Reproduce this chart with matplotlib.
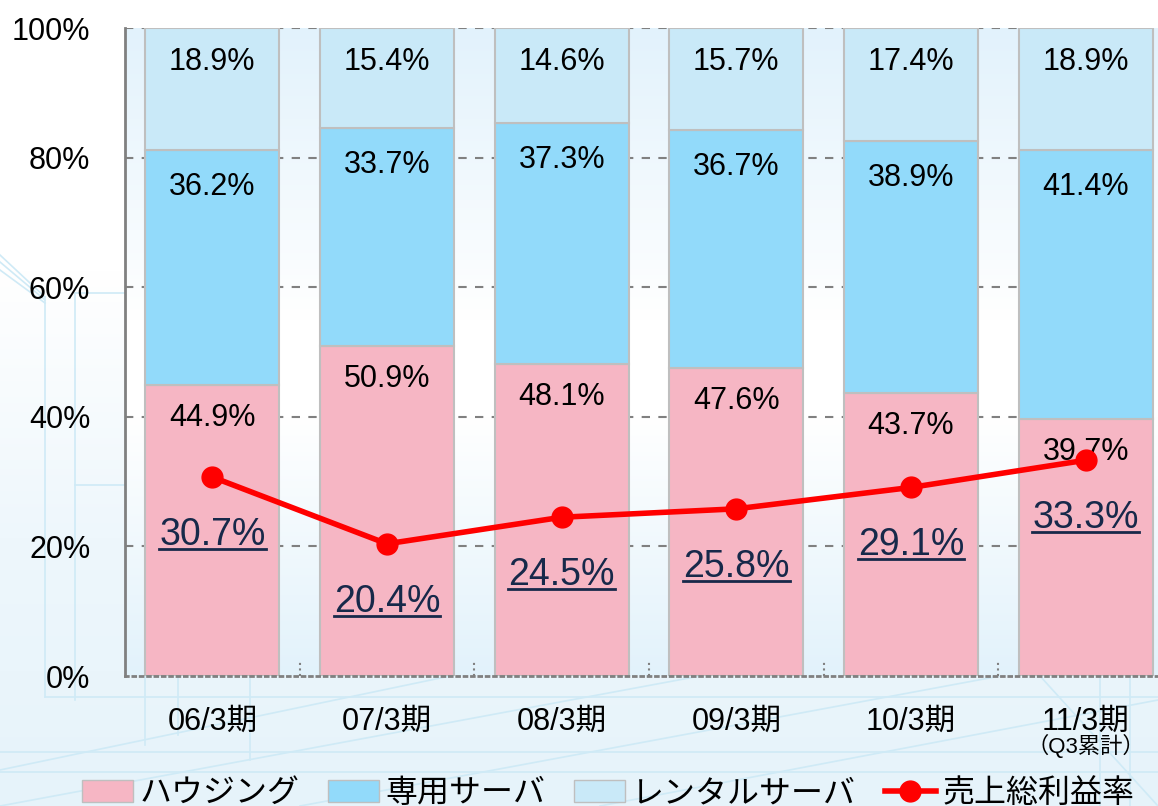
import numpy as np
import matplotlib.pyplot as plt
from matplotlib.colors import LinearSegmentedColormap
from matplotlib.lines import Line2D
from matplotlib.patches import Patch

plt.rcParams['font.family'] = ['Liberation Sans', 'Noto Sans CJK JP', 'DejaVu Sans']

# data (shares in %)
periods = ['06/3期', '07/3期', '08/3期', '09/3期', '10/3期', '11/3期']
housing = [44.9, 50.9, 48.1, 47.6, 43.7, 39.7]
dedicated = [36.2, 33.7, 37.3, 36.7, 38.9, 41.4]
rental = [18.9, 15.4, 14.6, 15.7, 17.4, 18.9]
margin = [30.7, 20.4, 24.5, 25.8, 29.1, 33.3]
series_names = ['ハウジング', '専用サーバ', 'レンタルサーバ', '売上総利益率']
note = '（Q3累計）'

c_house = '#F6B6C4'
c_ded = '#92DAFA'
c_rent = '#C9E9F8'
c_edge = '#BFBFBF'
c_line = '#FF0000'
c_lab = '#17294A'

W, H = 1158, 806
fig = plt.figure(figsize=(W / 100, H / 100), dpi=100)

# faint background of the slide
bg = fig.add_axes([0, 0, 1, 1], zorder=-10)
bg_cmap = LinearSegmentedColormap.from_list('bg', ['#FFFFFF', '#FFFFFF', '#EEF7FC', '#E6F3FA'])
bg.imshow(np.linspace(0, 1, 256).reshape(-1, 1), cmap=bg_cmap, aspect='auto',
          extent=[0, W, 0, H], origin='upper')
deco = [
    [(0, 45), (255, 297)], [(0, 45), (262, 300)], [(0, 45), (270, 303)],
    [(45, 45), (297, 697)], [(75, 75), (293, 700)], [(75, 125), (293, 293)],
    [(75, 125), (485, 485)], [(45, 1158), (697, 697)], [(0, 700), (806, 676)],
    [(0, 450), (770, 676)], [(300, 1000), (806, 676)], [(600, 1158), (806, 700)],
    [(145, 145), (676, 745)], [(178, 178), (676, 735)], [(250, 250), (676, 760)],
    [(1040, 1158), (676, 806)], [(1100, 1100), (676, 806)], [(1130, 1130), (676, 806)],
    [(0, 1158), (752, 752)], [(0, 1158), (772, 772)],
]
for xs, ys in deco:
    bg.plot(xs, [H - y for y in ys], color='#CFEAF6', lw=1.2)
bg.set_xlim(0, W)
bg.set_ylim(0, H)
bg.axis('off')

ax = fig.add_axes([125 / W, 130 / H, 1048 / W, 648 / H])
ax.patch.set_alpha(0)

# plot area gradient
pa_cmap = LinearSegmentedColormap.from_list('pa', [(0, '#E2F2FC'), (0.45, '#FFFFFF'),
                                                   (0.6, '#FFFFFF'), (1, '#E2F2FB')])
ax.imshow(np.linspace(0, 1, 256).reshape(-1, 1), cmap=pa_cmap, aspect='auto',
          extent=[0, 1, 0, 1], transform=ax.transAxes, zorder=0.1)

x = np.arange(len(periods))
for g in [20, 40, 60, 80, 100]:
    ax.axhline(g, color='#808080', lw=1.5, ls=(0, (4, 4)), zorder=0.5)

bw = 0.767
ax.bar(x, housing, bw, color=c_house, edgecolor=c_edge, lw=1.5, zorder=2)
ax.bar(x, dedicated, bw, bottom=housing, color=c_ded, edgecolor=c_edge, lw=1.5, zorder=2)
bot3 = np.add(housing, dedicated)
ax.bar(x, rental, bw, bottom=bot3, color=c_rent, edgecolor=c_edge, lw=1.5, zorder=2)

for i in x:
    ax.annotate(f'{housing[i]}%', (i, housing[i]), xytext=(0, -33), textcoords='offset pixels',
                ha='center', va='center', fontsize=22, zorder=3)
    ax.annotate(f'{dedicated[i]}%', (i, bot3[i]), xytext=(0, -37), textcoords='offset pixels',
                ha='center', va='center', fontsize=22, zorder=3)
    ax.annotate(f'{rental[i]}%', (i, 100), xytext=(0, -34), textcoords='offset pixels',
                ha='center', va='center', fontsize=22, zorder=3)

ax.plot(x, margin, color=c_line, lw=4, marker='o', ms=15, zorder=4)
mlabels = []
for i in x:
    t = ax.annotate(f'{margin[i]}%', (i, margin[i]), xytext=(0, -58), textcoords='offset pixels',
                    ha='center', va='center', fontsize=27, color=c_lab, zorder=5)
    mlabels.append(t)

# dotted marks between categories
ax.vlines(x[:-1] + 0.5, 0, 2.2, colors='#808080', linestyles=':', lw=1.5, zorder=1)

ax.set_xlim(-0.5, 5.5)
ax.set_ylim(0, 100)
ax.set_yticks([0, 20, 40, 60, 80, 100])
ax.set_yticklabels([f'{v}%' for v in [0, 20, 40, 60, 80, 100]])
ax.set_xticks(x)
ax.set_xticklabels(periods)
ax.tick_params(axis='y', length=0, pad=25, labelsize=22)
ax.tick_params(axis='x', length=0, pad=22, labelsize=22)
ax.text(x[-1], -0.108, note, transform=ax.get_xaxis_transform(), ha='center', va='center',
        fontsize=16)

for s in ['top', 'right']:
    ax.spines[s].set_visible(False)
ax.spines['left'].set_color('#808080')
ax.spines['left'].set_linewidth(2)
ax.spines['bottom'].set_color('#808080')
ax.spines['bottom'].set_linewidth(2)
ax.spines['bottom'].set_linestyle(':')

handles = [Patch(facecolor=c_house, edgecolor=c_edge),
           Patch(facecolor=c_ded, edgecolor=c_edge),
           Patch(facecolor=c_rent, edgecolor=c_edge),
           Line2D([], [], color=c_line, lw=4, marker='o', ms=15)]
fig.legend(handles, series_names, loc='upper center', bbox_to_anchor=(608 / W, 43 / H),
           ncol=4, frameon=False, fontsize=23, handlelength=1.6, handletextpad=0.2,
           columnspacing=0.9, borderpad=0)

# underline the margin labels
fig.canvas.draw()
r = fig.canvas.get_renderer()
for t in mlabels:
    bb = t.get_window_extent(r)
    y = bb.y0 + 4
    fig.add_artist(Line2D([bb.x0 / W, bb.x1 / W], [y / H, y / H], color=c_lab, lw=2,
                          transform=fig.transFigure, zorder=6))

fig.savefig('out.png', dpi=100)
